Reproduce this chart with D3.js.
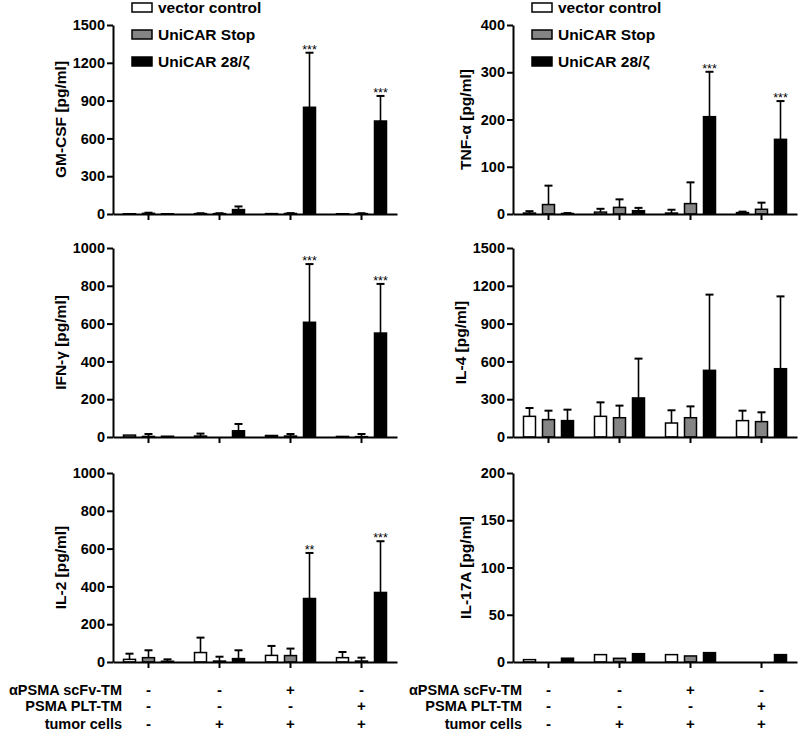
<!DOCTYPE html>
<html>
<head>
<meta charset="utf-8">
<script src="https://cdn.jsdelivr.net/npm/d3@7/dist/d3.min.js"></script>
<style>
  body { margin: 0; background: #fff; }
  svg { display: block; font-family: "Liberation Sans", Arial, sans-serif; }
</style>
</head>
<body>
<svg id="chart" width="800" height="733"></svg>
<script>
// ---------------- DATA ----------------
const groups = ["ctrl", "tumor", "scFv", "PLT"];
const seriesNames = ["vector control", "UniCAR Stop", "UniCAR 28/ζ"];

const rowLabels = ["αPSMA scFv-TM", "PSMA PLT-TM", "tumor cells"];
const scFvRow = ["-", "-", "+", "-"];
const pltRow = ["-", "-", "-", "+"];
const tumorRow = ["-", "+", "+", "+"];

// means [vector, stop, 28/zeta] x 4 groups; sd likewise
const gmcsfMean = [[2, 3, 3, 2], [5, 3, 4, 3], [2, 35, 847, 738]];
const gmcsfSD   = [[0, 3, 0, 0], [5, 3, 3, 3], [0, 25, 433, 199]];
const gmcsfSig  = ["", "", "***", "***"];
const gmcsfTicks = [0, 300, 600, 900, 1200, 1500];

const tnfMean = [[2, 4, 2, 3], [20, 14, 22, 10], [1, 7, 206, 158]];
const tnfSD   = [[4, 7, 7, 2], [40, 17, 45, 14], [1, 6, 95, 81]];
const tnfSig  = ["", "", "***", "***"];
const tnfTicks = [0, 100, 200, 300, 400];

const ifnMean = [[10, 5, 8, 3], [3, 0, 5, 2], [4, 33, 607, 550]];
const ifnSD   = [[0, 13, 0, 0], [13, 0, 11, 14], [0, 36, 308, 260]];
const ifnSig  = ["", "", "***", "***"];
const ifnTicks = [0, 200, 400, 600, 800, 1000];

const il4Mean = [[164, 164, 111, 130], [138, 153, 153, 122], [130, 310, 529, 542]];
const il4SD   = [[66, 111, 101, 79], [71, 96, 90, 74], [87, 312, 601, 574]];
const il4Sig  = ["", "", "", ""];
const il4Ticks = [0, 300, 600, 900, 1200, 1500];

const il2Mean = [[14, 50, 35, 23], [23, 5, 34, 5], [4, 18, 336, 368]];
const il2SD   = [[30, 79, 50, 30], [39, 23, 37, 18], [10, 44, 241, 271]];
const il2Sig  = ["", "", "**", "***"];
const il2Ticks = [0, 200, 400, 600, 800, 1000];

const il17Mean = [[2.5, 7.8, 7.8, 0], [0, 3.9, 6.4, 0], [4, 8.8, 9.9, 7.8]];
const il17SD   = [[0, 0, 0, 0], [0, 0, 0, 0], [0, 0, 0, 0]];
const il17Sig  = ["", "", "", ""];
const il17Ticks = [0, 50, 100, 150, 200];

// ---------------- LAYOUT / STYLE ----------------
const fills = ["#ffffff", "#858585", "#000000"];
const panelW = 284, panelH = 189;
const colX = [113, 513];
const rowY = [25, 248, 473];
const FONT = "'Liberation Sans', Arial, sans-serif";

const panels = [
  {label: "GM-CSF [pg/ml]", mean: gmcsfMean, sd: gmcsfSD, sig: gmcsfSig, ticks: gmcsfTicks, col: 0, row: 0, legend: true},
  {label: "TNF-α [pg/ml]", mean: tnfMean, sd: tnfSD, sig: tnfSig, ticks: tnfTicks, col: 1, row: 0, legend: true},
  {label: "IFN-γ [pg/ml]", mean: ifnMean, sd: ifnSD, sig: ifnSig, ticks: ifnTicks, col: 0, row: 1},
  {label: "IL-4 [pg/ml]", mean: il4Mean, sd: il4SD, sig: il4Sig, ticks: il4Ticks, col: 1, row: 1},
  {label: "IL-2 [pg/ml]", mean: il2Mean, sd: il2SD, sig: il2Sig, ticks: il2Ticks, col: 0, row: 2},
  {label: "IL-17A [pg/ml]", mean: il17Mean, sd: il17SD, sig: il17Sig, ticks: il17Ticks, col: 1, row: 2}
];

const svg = d3.select("#chart");
svg.append("rect").attr("width", 800).attr("height", 733).attr("fill", "#fff");

const x = d3.scaleBand().domain(groups).range([0, panelW]);
const inner = d3.scalePoint().domain(seriesNames).range([-19, 19]);
const barW = 12;

panels.forEach(p => {
  const ox = colX[p.col], oy = rowY[p.row];
  const g = svg.append("g").attr("transform", `translate(${ox},${oy})`);
  const maxV = d3.max(p.ticks);
  const y = d3.scaleLinear().domain([0, maxV]).range([panelH, 0]);

  // bars + error bars
  seriesNames.forEach((s, si) => {
    groups.forEach((grp, gi) => {
      const v = p.mean[si][gi], sd = p.sd[si][gi];
      const cx = x(grp) + x.bandwidth() / 2 + inner(s);
      if (sd > 0) {
        g.append("line").attr("x1", cx).attr("x2", cx)
          .attr("y1", y(v)).attr("y2", y(v + sd))
          .attr("stroke", "#000").attr("stroke-width", 1.6);
        g.append("line").attr("x1", cx - 4).attr("x2", cx + 4)
          .attr("y1", y(v + sd)).attr("y2", y(v + sd))
          .attr("stroke", "#000").attr("stroke-width", 2);
      }
      if (v > 0) {
        g.append("rect")
          .attr("x", cx - barW / 2).attr("y", y(v))
          .attr("width", barW).attr("height", panelH - y(v))
          .attr("fill", fills[si]).attr("stroke", "#000").attr("stroke-width", 1.5);
      }
      if (si === 2 && p.sig[gi]) {
        g.append("text").attr("x", cx).attr("y", y(v + sd) + 1)
          .attr("text-anchor", "middle").attr("font-size", 12.5)
          .attr("font-family", FONT).attr("fill", "#000").text(p.sig[gi]);
      }
    });
  });

  // y axis
  const ya = g.append("g").call(
    d3.axisLeft(y).tickValues(p.ticks).tickSize(6).tickSizeOuter(0).tickPadding(2).tickFormat(d3.format("d"))
  );
  ya.select(".domain").attr("stroke-width", 2);
  ya.selectAll(".tick line").attr("stroke-width", 2);
  ya.selectAll(".tick text").attr("font-size", 14.5).attr("font-weight", "bold")
    .attr("font-family", FONT).attr("fill", "#000");

  // x axis
  const xa = g.append("g").attr("transform", `translate(0,${panelH})`).call(
    d3.axisBottom(x).tickSize(6).tickSizeOuter(0).tickFormat("")
  );
  xa.select(".domain").attr("stroke-width", 2);
  xa.selectAll(".tick line").attr("stroke-width", 2);

  // y label
  const labOff = d3.max(p.ticks) >= 1000 ? 51 : 46;
  g.append("text")
    .attr("transform", `translate(${-labOff},${panelH / 2}) rotate(-90)`)
    .attr("text-anchor", "middle").attr("dominant-baseline", "middle")
    .attr("font-size", 15.5).attr("font-weight", "bold").attr("fill", "#000")
    .attr("font-family", FONT).text(p.label);

  // legend
  if (p.legend) {
    const lg = svg.append("g").attr("transform", `translate(${ox + 19},0)`);
    const rowsY = [7.5, 34.5, 61.5];
    seriesNames.forEach((s, si) => {
      lg.append("rect").attr("x", 0).attr("y", rowsY[si] - 4.5).attr("width", 20).attr("height", 9)
        .attr("fill", fills[si]).attr("stroke", "#000").attr("stroke-width", 1.5);
      lg.append("text").attr("x", 26).attr("y", rowsY[si] + 5.5)
        .attr("font-size", 15.5).attr("font-weight", "bold").attr("fill", "#000")
        .attr("font-family", FONT).text(s);
    });
  }
});

// condition table
const tableRows = [scFvRow, pltRow, tumorRow];
const tableY = [695, 711, 729];
colX.forEach(ox => {
  const tg = svg.append("g").attr("transform", `translate(${ox},0)`);
  rowLabels.forEach((lab, ri) => {
    tg.append("text").attr("x", 9).attr("y", tableY[ri])
      .attr("text-anchor", "end").attr("font-size", 14.5).attr("font-weight", "bold")
      .attr("font-family", FONT).attr("fill", "#000").text(lab);
    tableRows[ri].forEach((sym, gi) => {
      tg.append("text").attr("x", x(groups[gi]) + x.bandwidth() / 2).attr("y", tableY[ri])
        .attr("text-anchor", "middle").attr("font-size", 15).attr("font-weight", "bold")
        .attr("font-family", FONT).attr("fill", "#000").text(sym);
    });
  });
});
</script>
</body>
</html>
